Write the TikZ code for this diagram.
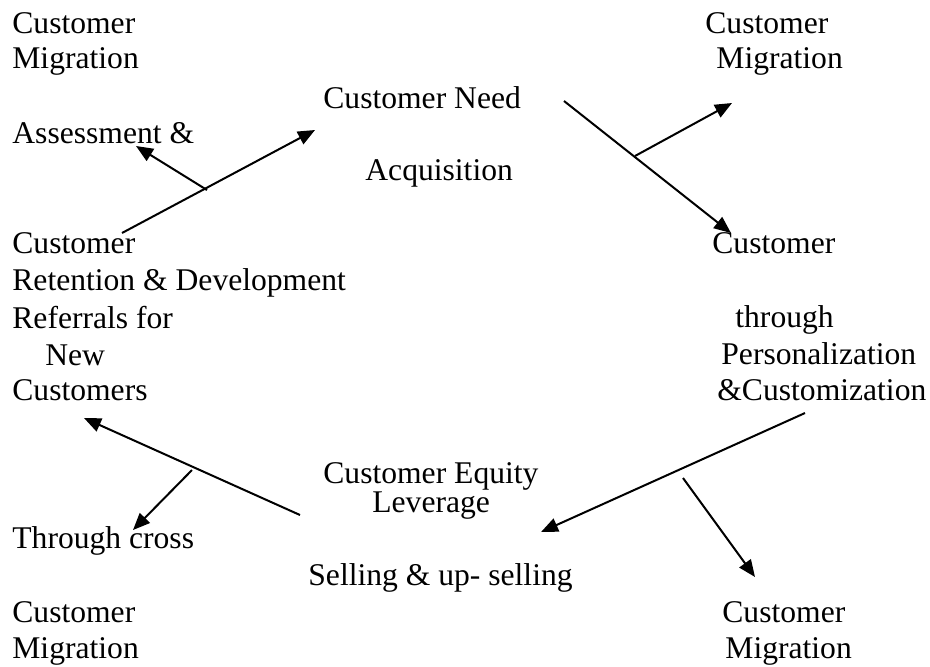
\documentclass[tikz,border=0pt]{standalone}
\usepackage{fontspec}
\setmainfont{Liberation Serif}
\usepackage{tikz}
\usetikzlibrary{arrows.meta}

\begin{document}
\begin{tikzpicture}[x=0.5pt,y=-0.5pt,
  txt/.style={anchor=base west,inner sep=0pt,font=\fontsize{15.8}{18}\selectfont},
  arr/.style={line width=1pt,-{Triangle[length=8.5pt,width=7pt]}}]
\useasboundingbox (0,0) rectangle (930,666);

% top left
\node[txt] (tlA) at (12,33) {Customer};
\node[txt] (tlB) at (12,68) {Migration};
\node[txt] (tlC) at (12,143) {Assessment \&};
% top centre
\node[txt] (need) at (323,108) {Customer Need};
\node[txt] (acq) at (365,180) {Acquisition};
% top right
\node[txt] (trA) at (705,33) {Customer};
\node[txt] (trB) at (716,68) {Migration};
% left middle
\node[txt] (lmA) at (12,253) {Customer};
\node[txt] (lmB) at (12,290) {Retention \& Development};
\node[txt] (lmC) at (12,328) {Referrals for};
\node[txt] (lmD) at (45,365) {New};
\node[txt] (lmE) at (12,400) {Customers};
% right middle
\node[txt] (rmA) at (712,253) {Customer};
\node[txt] (rmB) at (735,327) {through};
\node[txt] (rmC) at (721,364) {Personalization};
\node[txt] (rmD) at (717,400) {\&Customization};
% bottom centre
\node[txt] (eqA) at (323,483) {Customer Equity};
\node[txt] (eqB) at (372,512) {Leverage};
\node[txt] (sell) at (308,585) {Selling \& up- selling};
% bottom left
\node[txt] (blA) at (12,548) {Through cross};
\node[txt] (blB) at (12,622) {Customer};
\node[txt] (blC) at (12,658) {Migration};
% bottom right
\node[txt] (brA) at (722,622) {Customer};
\node[txt] (brB) at (725,658) {Migration};

% arrow ends
\coordinate (a1s) at (122,233);
\coordinate (a1e) at (315,130);
\coordinate (b1s) at (207,190);
\coordinate (b1e) at (136,146);
\coordinate (a2s) at (564,101);
\coordinate (a2e) at (731,233);
\coordinate (b2s) at (635,156);
\coordinate (b2e) at (732,103);
\coordinate (a3s) at (805,413);
\coordinate (a3e) at (541,532);
\coordinate (b3s) at (683,478);
\coordinate (b3e) at (755,577);
\coordinate (a4s) at (300,515);
\coordinate (a4e) at (84,418);
\coordinate (b4s) at (192,470);
\coordinate (b4e) at (133,530);

\draw[arr] (a1s)--(a1e);
\draw[arr] (b1s)--(b1e);
\draw[arr] (a2s)--(a2e);
\draw[arr] (b2s)--(b2e);
\draw[arr] (a3s)--(a3e);
\draw[arr] (b3s)--(b3e);
\draw[arr] (a4s)--(a4e);
\draw[arr] (b4s)--(b4e);
\end{tikzpicture}
\end{document}
